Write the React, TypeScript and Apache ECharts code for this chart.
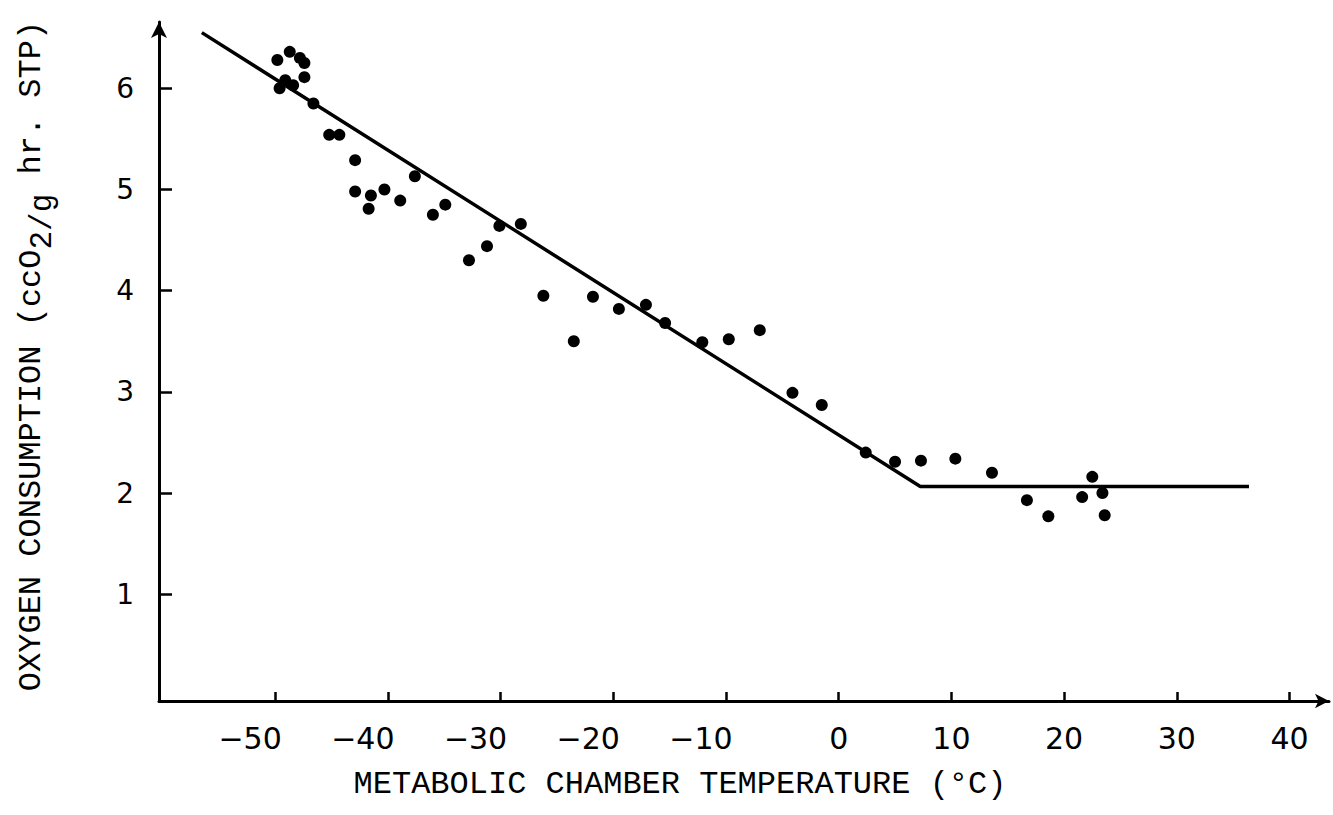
import React, { useEffect, useRef } from "react";
import * as echarts from "echarts";

// Tick values
const xTickValues = [-50, -40, -30, -20, -10, 0, 10, 20, 30, 40];
const yTickValues = [1, 2, 3, 4, 5, 6];

// Observations: metabolic chamber temperature (°C) and oxygen consumption
const temperature = [
  -49.8, -48.7, -47.8, -47.4, -47.4, -49.6, -48.4, -49.1, -46.6,
  -45.2, -44.3, -42.9, -42.9, -41.5, -40.3, -41.7, -38.9, -37.6,
  -36.0, -34.9, -30.1, -28.2, -31.2, -32.8, -26.2, -21.8, -19.5,
  -17.1, -15.4, -23.5, -12.1, -9.75, -7.0, -4.1, -1.5, 2.4,
  5.0, 7.3, 10.35, 13.6, 16.7, 18.6, 21.6, 22.5, 23.4, 23.6,
];
const oxygen = [
  6.28, 6.36, 6.3, 6.25, 6.11, 6.0, 6.03, 6.08, 5.85,
  5.54, 5.54, 5.29, 4.98, 4.94, 5.0, 4.81, 4.89, 5.13,
  4.75, 4.85, 4.64, 4.66, 4.44, 4.3, 3.95, 3.94, 3.82,
  3.86, 3.68, 3.5, 3.49, 3.52, 3.61, 2.99, 2.87, 2.4,
  2.31, 2.32, 2.34, 2.2, 1.93, 1.77, 1.96, 2.16, 2.0, 1.78,
];

// Fitted line (drawn on the original)
const fitTemperature = [-56.5, 7.24, 36.4];
const fitOxygen = [6.55, 2.065, 2.065];

const ink = "#000";

export default function App() {
  const ref = useRef<HTMLDivElement>(null);

  useEffect(() => {
    if (!ref.current) return;
    const chart = echarts.init(ref.current, undefined, { renderer: "svg" });
    const points = temperature.map((t, i) => [t, oxygen[i]]);
    const fit = fitTemperature.map((t, i) => [t, fitOxygen[i]]);

    chart.setOption({
      animation: false,
      backgroundColor: "#fff",
      grid: { left: 159, right: 4, top: 22, bottom: 114 },
      xAxis: {
        type: "value",
        min: -60.3,
        max: 43.5,
        splitLine: { show: false },
        axisLine: {
          onZero: false,
          symbol: ["none", "arrow"],
          symbolSize: [11, 14],
          lineStyle: { color: ink, width: 3 },
        },
        axisTick: {
          inside: true,
          length: 9,
          customValues: xTickValues,
          lineStyle: { color: ink, width: 2.5 },
        },
        axisLabel: {
          customValues: xTickValues,
          margin: 22,
          color: ink,
          formatter: (v: number) =>
            v < 0 ? `{n|\u2212${Math.abs(v)}}{s| }` : `{n|${v}}`,
          rich: {
            n: { fontSize: 30, fontFamily: "DejaVu Sans", color: ink },
            s: { width: 50, fontSize: 30 },
          },
        },
      },
      yAxis: {
        type: "value",
        min: -0.055,
        max: 6.655,
        splitLine: { show: false },
        axisLine: {
          onZero: false,
          symbol: ["none", "arrow"],
          symbolSize: [12, 16],
          lineStyle: { color: ink, width: 3 },
        },
        axisTick: {
          inside: true,
          length: 13,
          customValues: yTickValues,
          lineStyle: { color: ink, width: 2.5 },
        },
        axisLabel: {
          customValues: yTickValues,
          margin: 25,
          color: ink,
          fontSize: 28,
          fontFamily: "DejaVu Sans",
        },
      },
      graphic: [
        {
          type: "text",
          x: 680,
          y: 784,
          style: {
            text: "METABOLIC CHAMBER TEMPERATURE (°C)",
            fontSize: 32,
            fontFamily: "Liberation Mono",
            fill: ink,
            align: "center",
            verticalAlign: "middle",
          },
        },
        {
          type: "text",
          x: 31,
          y: 356,
          rotation: Math.PI / 2,
          style: {
            text: "OXYGEN CONSUMPTION (ccO{sub|2/g} hr. STP)",
            fontSize: 32,
            fontFamily: "Liberation Mono",
            fill: ink,
            align: "center",
            verticalAlign: "middle",
            rich: {
              sub: {
                fontSize: 31,
                fontFamily: "Liberation Mono",
                fill: ink,
                padding: [22, 0, 0, 0],
              },
            },
          },
        },
      ],
      series: [
        {
          type: "line",
          data: fit,
          symbol: "none",
          lineStyle: { color: ink, width: 3.5 },
          z: 2,
        },
        {
          type: "scatter",
          data: points,
          symbol: "circle",
          symbolSize: 12,
          itemStyle: { color: ink, opacity: 1 },
          z: 3,
        },
      ],
    });

    return () => chart.dispose();
  }, []);

  return (
    <div
      ref={ref}
      style={{
        position: "fixed",
        left: 0,
        top: 0,
        width: 1333,
        height: 815,
        background: "#fff",
      }}
    />
  );
}
